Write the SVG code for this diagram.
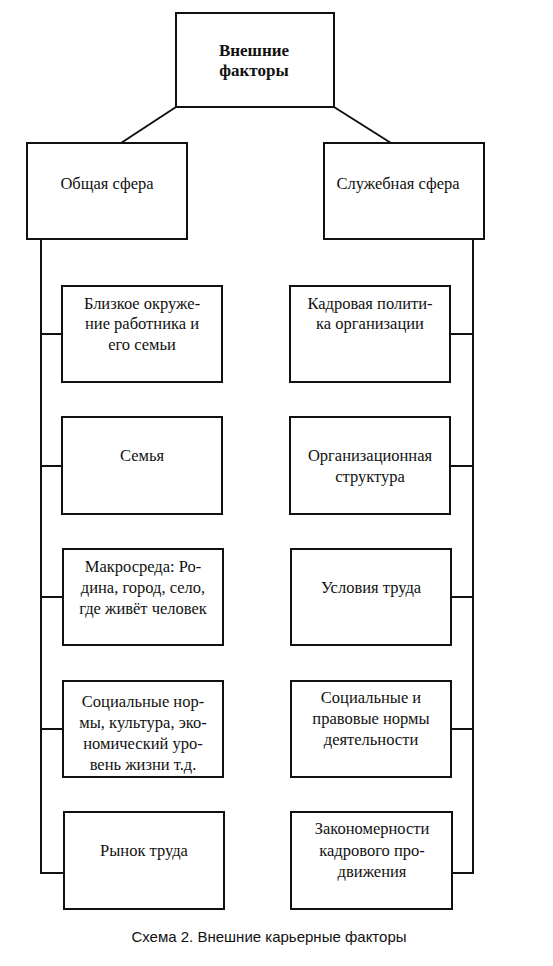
<svg xmlns="http://www.w3.org/2000/svg" width="553" height="966" viewBox="0 0 553 966">
<style>
.box{fill:#fff;stroke:#111;stroke-width:2}
.ln{fill:none;stroke:#111;stroke-width:2}
</style>
<rect width="553" height="966" fill="#fff"/>
<g id="connectors">
<path class="ln" d="M176,107 L121,143 M334,107 L391,143"/>
<path class="ln" d="M41,239 V873 H64 M473,239 V873 H452"/>
<path class="ln" d="M41,334 H62 M41,466 H62 M41,597 H63 M41,729 H63"/>
<path class="ln" d="M473,334 H450 M473,466 H450 M473,597 H451 M473,729 H451"/>
</g>
<g id="nodes" font-family="Liberation Serif, serif" font-size="16.5" fill="#111" text-anchor="middle">
<g id="root"><rect class="box" x="176" y="13" width="158" height="94"/><text font-weight="bold" font-size="17" x="254" y="56">Внешние</text><text font-weight="bold" font-size="17" x="254" y="76">факторы</text></g>
<g id="general"><rect class="box" x="27" y="143" width="160" height="96"/><text x="107" y="189">Общая сфера</text></g>
<g id="service"><rect class="box" x="324" y="143" width="160" height="96"/><text x="398" y="189">Служебная сфера</text></g>
<g id="l1"><rect class="box" x="62" y="286" width="160" height="96"/><text x="142" y="309">Близкое окруже-</text><text x="142" y="329">ние работника и</text><text x="142" y="350">его семьи</text></g>
<g id="l2"><rect class="box" x="62" y="417" width="160" height="97"/><text x="142" y="461">Семья</text></g>
<g id="l3"><rect class="box" x="63" y="549" width="160" height="96"/><text x="143" y="572">Макросреда: Ро-</text><text x="143" y="593">дина, город, село,</text><text x="143" y="614">где живёт человек</text></g>
<g id="l4"><rect class="box" x="63" y="681" width="160" height="96"/><text x="143" y="707">Социальные нор-</text><text x="143" y="728">мы, культура, эко-</text><text x="143" y="749">номический уро-</text><text x="143" y="770">вень жизни  т.д.</text></g>
<g id="l5"><rect class="box" x="64" y="812" width="160" height="97"/><text x="144" y="856">Рынок труда</text></g>
<g id="r1"><rect class="box" x="290" y="286" width="160" height="96"/><text x="370" y="309">Кадровая полити-</text><text x="370" y="329">ка организации</text></g>
<g id="r2"><rect class="box" x="290" y="417" width="160" height="97"/><text x="370" y="461">Организационная</text><text x="370" y="482">структура</text></g>
<g id="r3"><rect class="box" x="291" y="549" width="160" height="96"/><text x="371" y="593">Условия труда</text></g>
<g id="r4"><rect class="box" x="291" y="681" width="160" height="96"/><text x="371" y="703">Социальные и</text><text x="371" y="724">правовые нормы</text><text x="371" y="745">деятельности</text></g>
<g id="r5"><rect class="box" x="291" y="812" width="161" height="97"/><text x="372" y="834">Закономерности</text><text x="372" y="856">кадрового про-</text><text x="372" y="877">движения</text></g>
</g>
<text id="caption" x="269" y="942" font-family="Liberation Sans, Arial, sans-serif" font-size="15" fill="#111" text-anchor="middle">Схема 2. Внешние карьерные факторы</text>
</svg>
